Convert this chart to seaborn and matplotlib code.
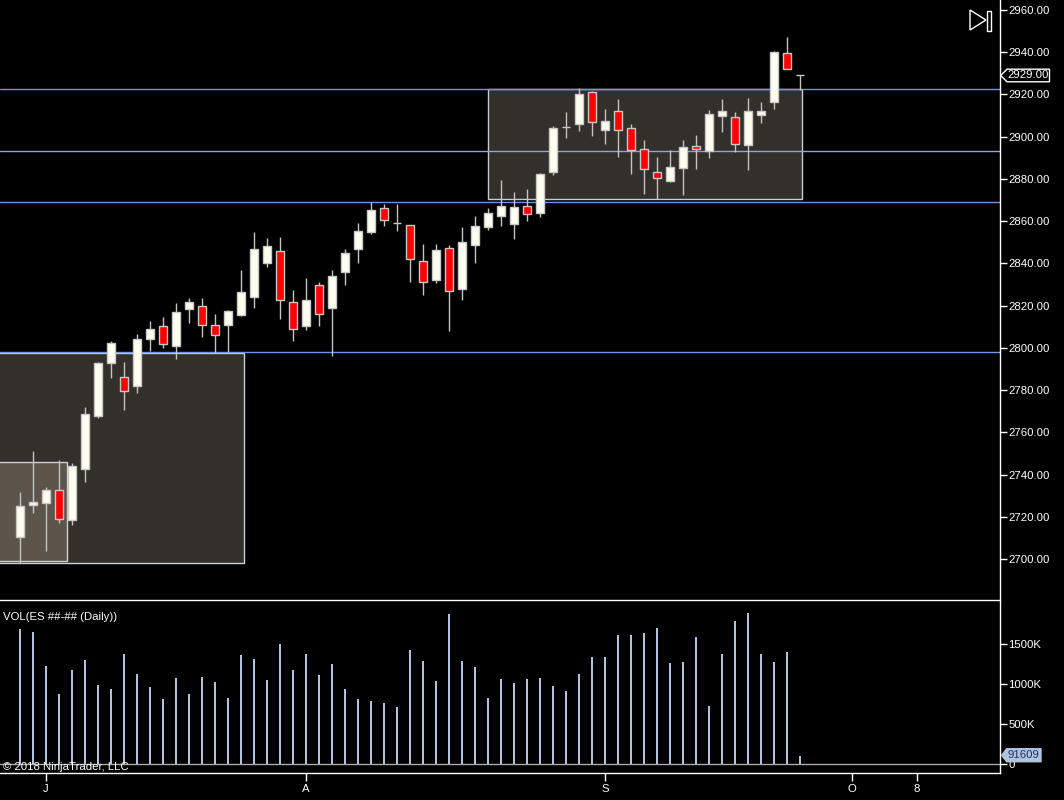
import numpy as np
import pandas as pd
import matplotlib
matplotlib.use("Agg")
import matplotlib.pyplot as plt
import matplotlib.transforms as mtransforms
from matplotlib.patches import Rectangle, Polygon
import seaborn as sns

# ---- daily bars (index = bar number) ----
opens = [2710.3, 2725.4, 2726.4, 2732.5, 2718.3, 2742.5, 2767.6, 2792.7, 2786.1, 2782.1,
         2804.0, 2810.2, 2801.0, 2818.3, 2819.7, 2810.7, 2810.7, 2815.7, 2824.2, 2840.3,
         2845.7, 2821.6, 2810.5, 2829.6, 2819.0, 2836.1, 2846.7, 2854.7, 2866.1, 2859.0,
         2858.0, 2841.0, 2832.0, 2847.1, 2827.7, 2848.9, 2857.1, 2862.3, 2858.5, 2867.0,
         2863.7, 2883.1, 2904.4, 2905.9, 2921.0, 2903.4, 2912.0, 2904.0, 2894.0, 2883.1,
         2878.9, 2885.0, 2895.4, 2893.1, 2909.7, 2909.3, 2896.0, 2910.4, 2916.3, 2939.5,
         2929.0]
highs = [2731.7, 2751.1, 2734.2, 2746.9, 2745.3, 2771.8, 2793.2, 2803.2, 2793.3, 2806.6,
         2812.7, 2814.6, 2821.2, 2823.5, 2823.5, 2816.0, 2817.9, 2836.9, 2854.9, 2852.0,
         2852.5, 2827.4, 2833.1, 2831.2, 2836.9, 2846.8, 2859.1, 2868.9, 2868.3, 2868.1,
         2858.0, 2849.2, 2849.2, 2848.6, 2857.2, 2862.3, 2866.1, 2879.4, 2873.7, 2875.1,
         2882.7, 2904.9, 2911.7, 2922.9, 2921.6, 2913.1, 2917.8, 2906.0, 2898.3, 2890.2,
         2893.6, 2898.3, 2900.6, 2912.5, 2917.8, 2911.6, 2918.3, 2916.2, 2940.6, 2947.2,
         2929.0]
lows = [2698.2, 2721.9, 2703.9, 2717.2, 2716.0, 2736.6, 2766.9, 2785.9, 2770.7, 2778.6,
        2798.6, 2800.1, 2794.9, 2811.9, 2805.3, 2797.4, 2798.0, 2815.1, 2818.9, 2838.4,
        2813.7, 2803.4, 2808.3, 2810.5, 2796.1, 2829.9, 2840.3, 2853.8, 2857.8, 2855.5,
        2831.2, 2825.0, 2830.9, 2808.1, 2822.8, 2840.3, 2855.7, 2857.6, 2851.4, 2859.9,
        2861.8, 2882.0, 2899.5, 2902.8, 2900.5, 2896.7, 2890.5, 2882.5, 2873.0, 2870.3,
        2878.4, 2872.5, 2884.8, 2890.0, 2902.3, 2892.6, 2884.1, 2906.5, 2913.3, 2931.9,
        2922.0]
closes = [2725.1, 2726.9, 2732.5, 2718.8, 2743.9, 2768.5, 2792.7, 2802.2, 2779.4, 2804.1,
          2808.8, 2801.7, 2816.8, 2821.6, 2810.7, 2806.0, 2817.3, 2826.3, 2846.7, 2848.1,
          2822.8, 2808.8, 2822.5, 2815.9, 2833.9, 2844.8, 2855.2, 2865.1, 2860.4, 2859.0,
          2841.9, 2831.0, 2846.2, 2826.8, 2850.0, 2857.6, 2863.7, 2867.0, 2866.6, 2863.2,
          2882.2, 2903.9, 2904.4, 2920.1, 2907.1, 2907.2, 2903.4, 2893.6, 2884.6, 2880.3,
          2885.5, 2894.9, 2894.0, 2910.6, 2912.0, 2896.5, 2912.0, 2912.3, 2940.1, 2931.9,
          2929.0]
volume_k = [1681, 1644, 1219, 869, 1169, 1294, 981, 931, 1369, 1119,
            956, 806, 1069, 869, 1081, 1019, 819, 1356, 1306, 1044,
            1494, 1169, 1369, 1106, 1244, 931, 806, 781, 756, 706,
            1419, 1281, 1031, 1869, 1281, 1206, 819, 1056, 1006, 1056,
            1069, 969, 906, 1119, 1331, 1331, 1606, 1606, 1631, 1694,
            1256, 1269, 1581, 719, 1369, 1781, 1881, 1369, 1269, 1394,
            91.609]

# month labels on the time axis
month_pos = [2, 22, 45, 64, 69]
month_labels = ["J", "A", "S", "O", "8"]

# price levels and zones drawn on the chart
levels = [2922.6, 2893.2, 2869.1, 2798.0]
level_colors = ["#6a96f0", "#8ea6d6", "#6a96f0", "#6a96f0"]
# zones: (first bar, last bar, low price, high price)
zones = [(-3.0, 17.25, 2698.1, 2797.6),
         (-3.0, 3.65, 2698.9, 2745.8),
         (36.0, 60.13, 2870.4, 2922.6)]
zone_fill = ["#332f2b", "#5c554c", "#332f2b"]
zone_edge = ["#c8d0dc", "#d0d0d0", "#c8ccd4"]

price_ticks = list(range(2700, 2961, 20))
vol_ticks = [0, 500, 1000, 1500]
vol_tick_labels = ["0", "500K", "1000K", "1500K"]

# ---- styling ----
sns.set_style("dark", rc={"axes.facecolor": "black", "figure.facecolor": "black",
                          "axes.grid": False})
plt.rcParams['font.family'] = ['Liberation Sans', 'DejaVu Sans']
fs = 8.2

W, H = 1064, 800
fig = plt.figure(figsize=(W / 100, H / 100), dpi=100)
ax = fig.add_axes([0, 1 - 599 / H, 1000 / W, 599 / H])
vax = fig.add_axes([0, 1 - 773 / H, 1000 / W, 173 / H])

idx = np.arange(len(opens))
o = np.array(opens); c = np.array(closes)
hi = np.array(highs); lo = np.array(lows)

x_lim = (-20 / 13, 980 / 13)

# zones
for (x0, x1, p0, p1), fc, ec in zip(zones, zone_fill, zone_edge):
    ax.add_patch(Rectangle((x0, p0), x1 - x0, p1 - p0, facecolor=fc,
                           edgecolor=ec, linewidth=1, zorder=1))
# levels
for lv, lc in zip(levels, level_colors):
    ax.axhline(lv, color=lc, linewidth=1, zorder=2)

# candles
ax.vlines(idx, lo, hi, color="#c4c4c4", linewidth=1, zorder=3)
body_col = np.where(c > o, "#fffff0", np.where(c < o, "#ff0000", "#c4c4c4"))
ax.bar(idx, np.abs(c - o), bottom=np.minimum(o, c), width=0.67, color=body_col,
       edgecolor="#c8c8c8", linewidth=1, zorder=4)

ax.set_xlim(*x_lim)
ax.set_ylim(2681.06, 2964.74)
ax.yaxis.tick_right()
ax.set_yticks(price_ticks)
ax.set_yticklabels([f"{p:.2f}" for p in price_ticks])
ax.tick_params(axis="y", right=True, left=False, colors="white", length=5, width=1,
               pad=1, labelsize=fs, direction="out")
ax.tick_params(axis="x", bottom=False, labelbottom=False)
for s in ["left", "top", "bottom"]:
    ax.spines[s].set_visible(False)
ax.spines["right"].set_color("white")
ax.spines["right"].set_linewidth(1)

# last price marker
tr = mtransforms.blended_transform_factory(ax.transAxes, ax.transData)
last = closes[-1]
dp = 6.3 / 2.1115
ax.add_patch(Polygon([(1.0007, last), (1.007, last + dp), (1.0495, last + dp),
                      (1.0495, last - dp), (1.007, last - dp)], closed=True,
                     facecolor="black", edgecolor="white", linewidth=1,
                     transform=tr, clip_on=False, zorder=6))
ax.text(1.0075, last, f"{last:.2f}", transform=tr, color="white", fontsize=fs,
        va="center", ha="left", clip_on=False, zorder=7)

# ---- volume ----
vdf = pd.DataFrame({"bar": idx, "vol": volume_k})
sns.barplot(data=vdf, x="bar", y="vol", native_scale=True, width=0.18,
            color="#b0c4de", saturation=1, linewidth=0, ax=vax, zorder=3)
vax.axhline(0, color="#a8a8a8", linewidth=1, zorder=2)
vax.set_xlim(*x_lim)
vax.set_ylim(-118.75, 2043.75)
vax.set_xlabel(""); vax.set_ylabel("")
vax.yaxis.tick_right()
vax.set_yticks(vol_ticks)
vax.set_yticklabels(vol_tick_labels)
vax.set_xticks(month_pos)
vax.set_xticklabels(month_labels)
vax.tick_params(axis="y", right=True, left=False, colors="white", length=5, width=1,
                pad=1, labelsize=fs, direction="out")
vax.tick_params(axis="x", bottom=True, colors="white", length=6, width=1, pad=2,
                labelsize=fs, direction="out")
vax.spines["left"].set_visible(False)
for s in ["top", "right", "bottom"]:
    vax.spines[s].set_color("white")
    vax.spines[s].set_linewidth(1)

vtr = mtransforms.blended_transform_factory(vax.transAxes, vax.transData)
vlast = volume_k[-1] + 12
dv = 6.5 * 12.5
vax.add_patch(Polygon([(1.0017, vlast), (1.0067, vlast + dv), (1.041, vlast + dv),
                       (1.041, vlast - dv), (1.0067, vlast - dv)], closed=True,
                      facecolor="#b0c4de", edgecolor="#b0c4de", linewidth=1,
                      transform=vtr, clip_on=False, zorder=6))
vax.text(1.0072, vlast, f"{volume_k[-1] * 1000:.0f}", transform=vtr, color="#1c2f6e",
         fontsize=fs, va="center", ha="left", clip_on=False, zorder=7)

# ---- labels and the scroll icon ----
fig.text(3 / W, 1 - 617 / H, "VOL(ES ##-## (Daily))", color="white", fontsize=fs,
         va="center", ha="left")
fig.text(3 / W, 1 - 767 / H, "\u00a9 2018 NinjaTrader, LLC", color="white",
         fontsize=fs, va="center", ha="left")

pix = mtransforms.Affine2D().scale(1 / W, -1 / H).translate(0, 1) + fig.transFigure
fig.patches.append(Polygon([(970, 10), (970, 30), (986, 20)], closed=True,
                           facecolor="none", edgecolor="white", linewidth=1,
                           transform=pix))
fig.patches.append(Rectangle((987, 10.5), 3.5, 20, facecolor="none",
                             edgecolor="white", linewidth=1, transform=pix))

fig.savefig("out.png", dpi=100, facecolor="black")
